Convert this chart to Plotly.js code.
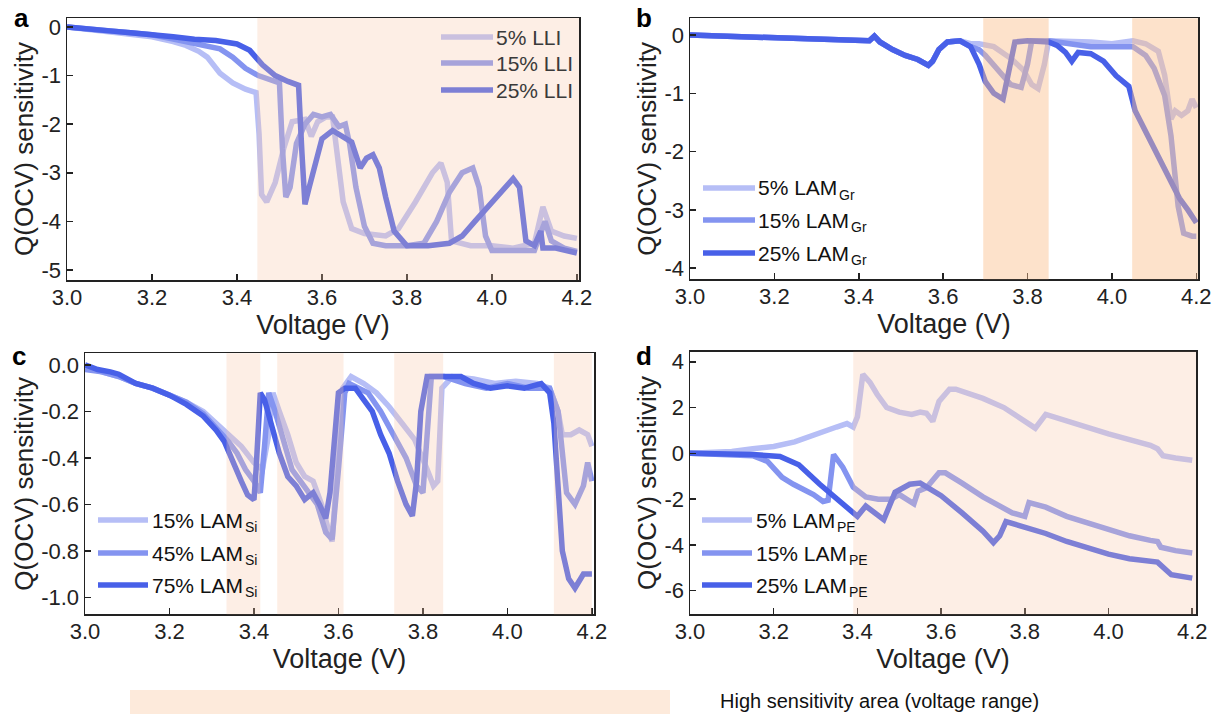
<!DOCTYPE html>
<html><head><meta charset="utf-8">
<script src="https://cdn.plot.ly/plotly-3.0.1.min.js"></script>
<style>html,body{margin:0;padding:0;background:#fff}#chart{width:1213px;height:714px}</style>
</head><body><div id="chart"></div>
<script>
// ---------- tick labels ----------
const voltTicks = [3.0, 3.2, 3.4, 3.6, 3.8, 4.0, 4.2];
const voltTickText = ["3.0", "3.2", "3.4", "3.6", "3.8", "4.0", "4.2"];
const aTicks = [0, -1, -2, -3, -4, -5];
const aTickText = ["0", "-1", "-2", "-3", "-4", "-5"];
const bTicks = [0, -1, -2, -3, -4];
const bTickText = ["0", "-1", "-2", "-3", "-4"];
const cTicks = [0, -0.2, -0.4, -0.6, -0.8, -1.0];
const cTickText = ["0.0", "-0.2", "-0.4", "-0.6", "-0.8", "-1.0"];
const dTicks = [4, 2, 0, -2, -4, -6];
const dTickText = ["4", "2", "0", "-2", "-4", "-6"];

// ---------- series names (main text + subscript) ----------
const aNames = ["5% LLI", "15% LLI", "25% LLI"];
const aSub = "";
const bNames = ["5% LAM", "15% LAM", "25% LAM"];
const bSub = "Gr";
const cNames = ["15% LAM", "45% LAM", "75% LAM"];
const cSub = "Si";
const dNames = ["5% LAM", "15% LAM", "25% LAM"];
const dSub = "PE";

// ---------- panel a: LLI ----------
const a_x5 = [3.00,3.05,3.10,3.15,3.20,3.25,3.28,3.31,3.33,3.36,3.39,3.42,3.445,3.452,3.458,3.47,3.49,3.51,3.53,3.56,3.575,3.59,3.61,3.625,3.635,3.65,3.67,3.70,3.75,3.78,3.82,3.86,3.88,3.895,3.905,3.95,4.00,4.05,4.10,4.12,4.14,4.17,4.20];
const a_y5 = [0,-0.05,-0.1,-0.15,-0.2,-0.3,-0.38,-0.5,-0.62,-0.95,-1.15,-1.28,-1.35,-2.2,-3.45,-3.6,-3.2,-2.5,-1.95,-1.9,-2.25,-1.95,-1.85,-1.85,-2.6,-3.6,-4.15,-4.25,-4.3,-4.15,-3.6,-3.0,-2.8,-3.2,-4.4,-4.5,-4.5,-4.55,-4.45,-3.7,-4.2,-4.3,-4.35];
const a_x15 = [3.00,3.05,3.10,3.15,3.20,3.25,3.30,3.33,3.36,3.39,3.42,3.45,3.47,3.49,3.50,3.507,3.515,3.525,3.54,3.56,3.58,3.60,3.62,3.64,3.655,3.665,3.68,3.70,3.72,3.75,3.80,3.84,3.87,3.90,3.93,3.955,3.97,3.985,4.00,4.05,4.10,4.125,4.14,4.17,4.20];
const a_y15 = [0,-0.04,-0.08,-0.12,-0.16,-0.25,-0.33,-0.38,-0.45,-0.62,-0.85,-1.0,-1.05,-1.1,-1.15,-2.5,-3.5,-3.3,-2.4,-2.0,-1.8,-1.85,-1.8,-2.05,-2.0,-2.4,-3.3,-4.1,-4.45,-4.5,-4.5,-4.45,-4.0,-3.4,-3.0,-2.9,-3.3,-4.3,-4.6,-4.6,-4.6,-4.0,-4.4,-4.55,-4.62];
const a_x25 = [3.00,3.05,3.10,3.15,3.20,3.25,3.30,3.35,3.40,3.43,3.46,3.49,3.52,3.545,3.553,3.56,3.57,3.585,3.60,3.625,3.65,3.67,3.69,3.705,3.72,3.735,3.75,3.77,3.80,3.85,3.90,3.93,3.96,4.00,4.03,4.05,4.065,4.08,4.10,4.115,4.12,4.15,4.20];
const a_y25 = [0,-0.05,-0.08,-0.12,-0.15,-0.2,-0.25,-0.28,-0.35,-0.48,-0.78,-1.0,-1.12,-1.2,-2.6,-3.65,-3.3,-2.78,-2.3,-2.13,-2.25,-2.37,-2.9,-2.7,-2.63,-2.9,-3.5,-4.2,-4.5,-4.5,-4.45,-4.3,-4.0,-3.6,-3.3,-3.12,-3.3,-4.4,-4.5,-4.2,-4.55,-4.55,-4.65];

// ---------- panel b: LAM graphite ----------
const b_x5 = [3.00,3.10,3.20,3.30,3.40,3.425,3.437,3.45,3.48,3.51,3.54,3.565,3.575,3.59,3.61,3.64,3.665,3.685,3.72,3.76,3.79,3.81,3.825,3.84,3.85,3.90,3.95,4.00,4.05,4.08,4.11,4.125,4.14,4.15,4.165,4.18,4.19,4.20];
const b_y5 = [0,-0.02,-0.05,-0.08,-0.1,-0.1,-0.02,-0.12,-0.25,-0.35,-0.42,-0.52,-0.45,-0.25,-0.12,-0.1,-0.15,-0.15,-0.2,-0.4,-0.6,-0.85,-0.92,-0.5,-0.1,-0.1,-0.12,-0.15,-0.1,-0.15,-0.28,-0.69,-1.44,-1.3,-1.38,-1.3,-1.1,-1.25];
const b_x15 = [3.00,3.10,3.20,3.30,3.40,3.425,3.437,3.45,3.48,3.51,3.54,3.565,3.575,3.59,3.61,3.64,3.665,3.685,3.70,3.73,3.76,3.785,3.80,3.81,3.85,3.90,3.95,4.00,4.05,4.08,4.10,4.125,4.14,4.157,4.17,4.19,4.20];
const b_y15 = [0,-0.02,-0.05,-0.08,-0.1,-0.1,-0.02,-0.12,-0.25,-0.35,-0.42,-0.52,-0.45,-0.25,-0.12,-0.1,-0.2,-0.25,-0.35,-0.6,-0.85,-0.9,-0.5,-0.1,-0.1,-0.15,-0.2,-0.2,-0.2,-0.35,-0.57,-1.04,-1.73,-2.94,-3.4,-3.45,-3.45];
const b_x25 = [3.00,3.10,3.20,3.30,3.40,3.425,3.437,3.45,3.48,3.51,3.54,3.565,3.575,3.59,3.61,3.64,3.665,3.685,3.70,3.72,3.742,3.755,3.77,3.80,3.85,3.87,3.89,3.905,3.92,3.95,3.98,4.01,4.04,4.055,4.08,4.11,4.14,4.16,4.18,4.20];
const b_y25 = [0,-0.02,-0.05,-0.08,-0.1,-0.1,-0.02,-0.12,-0.25,-0.35,-0.42,-0.52,-0.45,-0.25,-0.12,-0.1,-0.2,-0.5,-0.8,-1.0,-1.1,-0.6,-0.12,-0.1,-0.12,-0.18,-0.3,-0.45,-0.3,-0.32,-0.45,-0.7,-0.88,-1.3,-1.65,-2.08,-2.5,-2.8,-3.0,-3.22];

// ---------- panel c: LAM silicon ----------
const c_x15 = [3.00,3.04,3.08,3.12,3.16,3.20,3.24,3.28,3.31,3.34,3.37,3.40,3.42,3.435,3.445,3.46,3.48,3.50,3.52,3.54,3.56,3.575,3.585,3.595,3.61,3.63,3.66,3.69,3.72,3.75,3.78,3.81,3.825,3.835,3.845,3.87,3.92,3.97,4.02,4.07,4.10,4.12,4.13,4.15,4.17,4.19,4.20];
const c_y15 = [-0.01,-0.03,-0.05,-0.08,-0.1,-0.13,-0.16,-0.2,-0.25,-0.3,-0.35,-0.42,-0.45,-0.3,-0.12,-0.2,-0.3,-0.42,-0.48,-0.5,-0.6,-0.7,-0.76,-0.5,-0.1,-0.05,-0.08,-0.12,-0.18,-0.25,-0.32,-0.45,-0.52,-0.5,-0.1,-0.05,-0.06,-0.08,-0.07,-0.08,-0.1,-0.2,-0.3,-0.3,-0.28,-0.3,-0.35];
const c_x45 = [3.00,3.04,3.08,3.12,3.16,3.20,3.24,3.28,3.31,3.34,3.36,3.38,3.40,3.415,3.425,3.435,3.45,3.47,3.49,3.51,3.53,3.55,3.57,3.585,3.60,3.615,3.625,3.65,3.67,3.70,3.73,3.76,3.785,3.80,3.81,3.82,3.85,3.90,3.95,4.00,4.05,4.10,4.12,4.13,4.14,4.16,4.18,4.19,4.20];
const c_y45 = [-0.02,-0.03,-0.05,-0.08,-0.1,-0.13,-0.16,-0.21,-0.27,-0.33,-0.38,-0.45,-0.5,-0.55,-0.35,-0.12,-0.2,-0.32,-0.45,-0.5,-0.55,-0.6,-0.72,-0.75,-0.45,-0.12,-0.08,-0.1,-0.12,-0.2,-0.3,-0.4,-0.52,-0.55,-0.3,-0.05,-0.05,-0.08,-0.1,-0.08,-0.1,-0.1,-0.2,-0.4,-0.55,-0.6,-0.52,-0.42,-0.5];
const c_x75 = [3.00,3.03,3.06,3.08,3.12,3.16,3.20,3.24,3.28,3.31,3.33,3.35,3.37,3.385,3.40,3.405,3.415,3.425,3.44,3.46,3.48,3.50,3.52,3.54,3.555,3.57,3.58,3.59,3.60,3.615,3.64,3.66,3.68,3.70,3.72,3.74,3.76,3.775,3.785,3.795,3.81,3.85,3.89,3.92,3.96,4.00,4.04,4.08,4.10,4.11,4.12,4.13,4.145,4.16,4.18,4.20];
const c_y75 = [0,-0.02,-0.03,-0.04,-0.08,-0.1,-0.13,-0.17,-0.22,-0.28,-0.33,-0.42,-0.5,-0.56,-0.58,-0.45,-0.12,-0.15,-0.25,-0.38,-0.48,-0.52,-0.58,-0.55,-0.6,-0.66,-0.55,-0.3,-0.12,-0.1,-0.1,-0.15,-0.2,-0.3,-0.38,-0.5,-0.6,-0.65,-0.5,-0.2,-0.05,-0.05,-0.05,-0.08,-0.1,-0.09,-0.1,-0.08,-0.12,-0.25,-0.5,-0.8,-0.92,-0.96,-0.9,-0.9];

// ---------- panel d: LAM positive electrode ----------
const d_x5 = [3.00,3.05,3.10,3.15,3.20,3.25,3.30,3.35,3.375,3.39,3.40,3.413,3.43,3.447,3.47,3.50,3.53,3.55,3.565,3.58,3.595,3.62,3.635,3.70,3.75,3.80,3.815,3.825,3.85,3.90,3.95,4.00,4.05,4.10,4.117,4.13,4.16,4.20];
const d_y5 = [0,0.02,0.08,0.2,0.3,0.5,0.85,1.15,1.3,1.15,1.6,3.45,3.1,2.58,2.0,1.8,1.7,1.8,1.75,1.4,2.27,2.8,2.8,2.4,2.0,1.4,1.2,1.1,1.7,1.4,1.1,0.85,0.6,0.35,0.2,-0.1,-0.2,-0.3];
const d_x15 = [3.00,3.10,3.15,3.185,3.22,3.247,3.295,3.318,3.33,3.343,3.35,3.365,3.39,3.42,3.45,3.48,3.50,3.525,3.535,3.545,3.565,3.595,3.61,3.65,3.70,3.77,3.80,3.81,3.85,3.90,3.95,4.00,4.05,4.10,4.117,4.125,4.16,4.20];
const d_y15 = [0,-0.05,-0.1,-0.35,-1.05,-1.35,-1.8,-2.1,-2.05,-0.05,-0.2,-0.6,-1.48,-1.9,-2.0,-2.0,-1.8,-2.1,-2.2,-1.65,-1.5,-0.85,-0.85,-1.3,-1.9,-2.6,-2.75,-2.15,-2.35,-2.75,-3.05,-3.35,-3.6,-3.8,-3.85,-4.1,-4.25,-4.35];
const d_x25 = [3.00,3.10,3.15,3.215,3.26,3.31,3.35,3.40,3.42,3.44,3.463,3.49,3.525,3.55,3.60,3.65,3.70,3.725,3.74,3.755,3.80,3.85,3.90,3.95,4.00,4.05,4.10,4.117,4.15,4.18,4.20];
const d_y25 = [0,-0.02,-0.05,-0.14,-0.5,-1.35,-2.0,-2.75,-2.3,-2.6,-2.9,-1.7,-1.35,-1.3,-1.85,-2.6,-3.4,-3.9,-3.6,-2.98,-3.2,-3.5,-3.85,-4.15,-4.4,-4.6,-4.7,-4.75,-5.3,-5.42,-5.45];

// ---------- high sensitivity voltage ranges ----------
const aRanges = [[3.448, 4.205]];
const bRanges = [[3.695, 3.85], [4.048, 4.204]];
const cRanges = [[3.335, 3.415], [3.455, 3.612], [3.732, 3.848], [4.11, 4.2]];
const dRanges = [[3.39, 4.209]];

// ---------- styling ----------
const W = 1213, H = 714;
const FONT = "Liberation Sans, Arial, Helvetica, sans-serif";
const COLORS = ["rgb(182,190,246)", "rgb(132,148,240)", "rgb(72,96,232)"];
const LW = 5.5;
const LEG_SIZE = 21, SUB_SIZE = 14;
const px = v => v / W;
const py = v => 1 - v / H;

const measureCtx = document.createElement("canvas").getContext("2d");
function textWidth(str, size) {
  measureCtx.font = size + "px 'Liberation Sans', Arial, sans-serif";
  return measureCtx.measureText(str).width;
}

function xAxis(l, r, rmax, anchor) {
  return {
    domain: [px(l), px(r)], range: [3.0, rmax], anchor: anchor,
    tickmode: "array", tickvals: voltTicks, ticktext: voltTickText,
    ticks: "inside", ticklen: 6, tickwidth: 1.5, tickcolor: "#222",
    showline: true, linecolor: "#222", linewidth: 1.5, mirror: true,
    showgrid: false, zeroline: false, ticklabelstandoff: -3,
    tickfont: {family: FONT, size: 22, color: "#222"},
    title: {text: "Voltage (V)", font: {family: FONT, size: 27, color: "#222"}, standoff: 0},
    fixedrange: true
  };
}
function yAxis(t, b, range, tv, tt, anchor) {
  return {
    domain: [py(b), py(t)], range: range, anchor: anchor,
    tickmode: "array", tickvals: tv, ticktext: tt,
    ticks: "inside", ticklen: 6, tickwidth: 1.5, tickcolor: "#222",
    showline: true, linecolor: "#222", linewidth: 1.5, mirror: true,
    showgrid: false, zeroline: false,
    tickfont: {family: FONT, size: 22, color: "#222"},
    title: {text: "Q(OCV) sensitivity", font: {family: FONT, size: 26, color: "#222"}, standoff: 0},
    fixedrange: true
  };
}

const traces = [];
function addSeries(xs, ys, names, sub, xa, ya) {
  for (let i = 0; i < 3; i++) {
    traces.push({x: xs[i], y: ys[i], name: names[i] + sub, type: "scatter", mode: "lines",
      xaxis: xa, yaxis: ya, showlegend: false, hoverinfo: "skip",
      line: {color: COLORS[i], width: LW, shape: "linear"}});
  }
}
addSeries([a_x5, a_x15, a_x25], [a_y5, a_y15, a_y25], aNames, aSub, "x", "y");
addSeries([b_x5, b_x15, b_x25], [b_y5, b_y15, b_y25], bNames, bSub, "x2", "y2");
addSeries([c_x15, c_x45, c_x75], [c_y15, c_y45, c_y75], cNames, cSub, "x3", "y3");
addSeries([d_x5, d_x15, d_x25], [d_y5, d_y15, d_y25], dNames, dSub, "x4", "y4");

const shapes = [];
const annotations = [];

// manual legends (swatch line + label + subscript), drawn before shading so shading tints them
function addLegend(names, sub, x0, x1, rows, textX, textColor) {
  for (let i = 0; i < 3; i++) {
    shapes.push({type: "line", xref: "paper", yref: "paper", x0: px(x0), x1: px(x1), y0: py(rows[i]), y1: py(rows[i]),
      line: {color: COLORS[i], width: LW}, layer: "above"});
    annotations.push({xref: "paper", yref: "paper", x: px(textX), y: py(rows[i]), xanchor: "left", yanchor: "middle",
      text: names[i], showarrow: false, font: {family: FONT, size: LEG_SIZE, color: textColor}});
    if (sub) {
      const w = textWidth(names[i], LEG_SIZE);
      annotations.push({xref: "paper", yref: "paper", x: px(textX + 1 + w + 0.5), y: py(rows[i] + 7), xanchor: "left", yanchor: "middle",
        text: sub, showarrow: false, font: {family: FONT, size: SUB_SIZE, color: textColor}});
    }
  }
}
addLegend(aNames, aSub, 441, 493, [37, 63, 90], 494, "#3a3a3a");
addLegend(bNames, bSub, 703, 755, [188, 220, 253], 756, "#111");
addLegend(cNames, cSub, 98, 148, [520, 553, 585], 150, "#111");
addLegend(dNames, dSub, 702, 752, [520, 553, 585], 754, "#111");

function addShade(ranges, xa, ya, color, op) {
  ranges.forEach(r => shapes.push({type: "rect", xref: xa, yref: ya + " domain", x0: r[0], x1: r[1], y0: 0, y1: 1,
    fillcolor: color, opacity: op, line: {width: 0}, layer: "above"}));
}
addShade(aRanges, "x", "y", "rgb(250,200,170)", 0.3);
addShade(bRanges, "x2", "y2", "rgb(250,190,140)", 0.45);
addShade(cRanges, "x3", "y3", "rgb(250,200,170)", 0.3);
addShade(dRanges, "x4", "y4", "rgb(250,200,170)", 0.3);

// bottom key
shapes.push({type: "rect", xref: "paper", yref: "paper", x0: px(130), x1: px(670), y0: py(714), y1: py(690),
  fillcolor: "rgb(253,234,219)", line: {width: 0}, layer: "below"});
annotations.push({xref: "paper", yref: "paper", x: px(718), y: py(701), xanchor: "left", yanchor: "middle",
  text: "High sensitivity area (voltage range)", showarrow: false, font: {family: FONT, size: 20, color: "#111"}});

// panel letters
[["a", 12, 18], ["b", 634, 18], ["c", 10, 356], ["d", 634, 356]].forEach(p => annotations.push({
  xref: "paper", yref: "paper", x: px(p[1]), y: py(p[2]), xanchor: "left", yanchor: "middle",
  text: "<b>" + p[0] + "</b>", showarrow: false, font: {family: FONT, size: 26, color: "#000"}}));

const layout = {
  width: W, height: H, margin: {l: 0, r: 0, t: 0, b: 0},
  paper_bgcolor: "#fff", plot_bgcolor: "rgba(0,0,0,0)", showlegend: false,
  font: {family: FONT, size: 20},
  xaxis: xAxis(67, 579, 4.205, "y"),
  yaxis: yAxis(18, 280, [-5.206, 0.185], aTicks, aTickText, "x"),
  xaxis2: xAxis(690, 1198, 4.204, "y2"),
  yaxis2: yAxis(18.3, 279.3, [-4.19, 0.286], bTicks, bTickText, "x2"),
  xaxis3: xAxis(85, 594, 4.205, "y3"),
  yaxis3: yAxis(353.3, 614.3, [-1.073, 0.05], cTicks, cTickText, "x3"),
  xaxis4: xAxis(690, 1196, 4.209, "y4"),
  yaxis4: yAxis(351.7, 614.3, [-7.03, 4.44], dTicks, dTickText, "x4"),
  shapes: shapes, annotations: annotations
};

Plotly.newPlot("chart", traces, layout, {staticPlot: true, displayModeBar: false});
</script></body></html>
